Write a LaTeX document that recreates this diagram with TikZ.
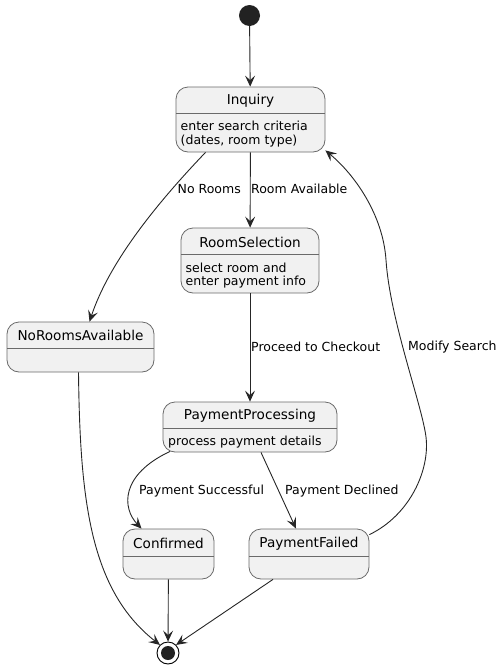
\documentclass[tikz,border=0pt]{standalone}
\usepackage{fontspec}
\setmainfont{DejaVu Sans}
\usetikzlibrary{arrows.meta,calc}
\definecolor{stfill}{HTML}{F1F1F1}
\definecolor{stline}{HTML}{6A6A6A}
\definecolor{dot}{HTML}{222222}
\begin{document}
\begin{tikzpicture}[x=1pt,y=-1pt,
  stbox/.style={draw=stline,fill=stfill,rounded corners=12pt,line width=0.8pt,inner sep=0pt},
  ttl/.style={font=\fontsize{13.6}{15}\selectfont,inner sep=0pt},
  body/.style={font=\fontsize{12.5}{13.6}\selectfont,align=left,anchor=north west,inner sep=0pt},
  lbl/.style={font=\fontsize{12.5}{14}\selectfont,inner sep=0pt},
  sepl/.style={draw=stline,line width=0.8pt},
  conn/.style={draw=black!85,line width=0.9pt,-{Stealth[length=11pt,width=10pt,inset=4.5pt]}}
]
\useasboundingbox (0,0) rectangle (503,667);
% start
\node[circle,fill=dot,minimum size=21pt,inner sep=0pt] (start) at (249.5,15.5) {};
% Inquiry
\node[stbox,minimum width=149pt,minimum height=65pt] (inq) at (250.5,119.5) {};
\draw[sepl] (176,113) -- (325,113);
\node[ttl] (inqt) at (250.5,101) {Inquiry};
\node[body] (inqb) at (180.5,121) {enter search criteria\\(dates, room type)};
% RoomSelection
\node[stbox,minimum width=138pt,minimum height=65pt] (rs) at (250,260.5) {};
\draw[sepl] (181,254) -- (319,254);
\node[ttl] (rst) at (250,242) {RoomSelection};
\node[body] (rsb) at (185.5,262.5) {select room and\\enter payment info};
% NoRoomsAvailable
\node[stbox,minimum width=147pt,minimum height=50pt] (nra) at (80.5,347) {};
\draw[sepl] (7,348) -- (154,348);
\node[ttl] (nrat) at (80.5,335.5) {NoRoomsAvailable};
% PaymentProcessing
\node[stbox,minimum width=174pt,minimum height=50pt] (pp) at (250,427) {};
\draw[sepl] (163,428) -- (337,428);
\node[ttl] (ppt) at (250,415.5) {PaymentProcessing};
\node[body] (ppb) at (168,435.5) {process payment details};
% Confirmed
\node[stbox,minimum width=91pt,minimum height=50pt] (conf) at (168.5,554) {};
\draw[sepl] (123,556) -- (214,556);
\node[ttl] (conft) at (168.5,543.5) {Confirmed};
% PaymentFailed
\node[stbox,minimum width=120pt,minimum height=50pt] (pf) at (309,554) {};
\draw[sepl] (249,556) -- (369,556);
\node[ttl] (pft) at (309,543.5) {PaymentFailed};
% end
\node[circle,draw=black,line width=0.9pt,fill=white,minimum size=22pt,inner sep=0pt] (end) at (168,653) {};
\node[circle,fill=dot,minimum size=14pt,inner sep=0pt] (endin) at (168,653) {};
% connectors
\draw[conn] (start) -- (inq);
\draw[conn] (inq) -- (rs);
\draw[conn] ($(inq.south)+(-45,0)$) .. controls (160,200) and (110,260) .. ($(nra.north)+(9,0)$);
\draw[conn] (rs) -- (pp);
\draw[conn] ($(pp.south)+(-80,-1)$) .. controls (120,475) and (122,508) .. ($(conf.north)+(-27,0)$);
\draw[conn] ($(pp.south)+(11,0)$) -- ($(pf.north)+(-13,0)$);
\draw[conn] ($(pf.north east)+(0,6)$) .. controls (410,515) and (430,470) .. (426,437)
  .. controls (422,405) and (390,320) .. (386,260)
  .. controls (383,215) and (355,175) .. ($(inq.south east)+(0,-2)$);
\draw[conn] ($(nra.south)+(-2,0)$) .. controls (80,500) and (90,590) .. (end.north west);
\draw[conn] (conf) -- (end);
\draw[conn] ($(pf.south)+(-36,0)$) -- (end.north east);
% labels
\node[lbl,anchor=east] (l1) at (241,189) {No Rooms};
\node[lbl,anchor=west] (l2) at (251,189) {Room Available};
\node[lbl,anchor=west] (l3) at (251,347) {Proceed to Checkout};
\node[lbl,anchor=west] (l4) at (408,347) {Modify Search};
\node[lbl,anchor=west] (l5) at (139,491) {Payment Successful};
\node[lbl,anchor=west] (l6) at (285,491) {Payment Declined};
\end{tikzpicture}
\end{document}
